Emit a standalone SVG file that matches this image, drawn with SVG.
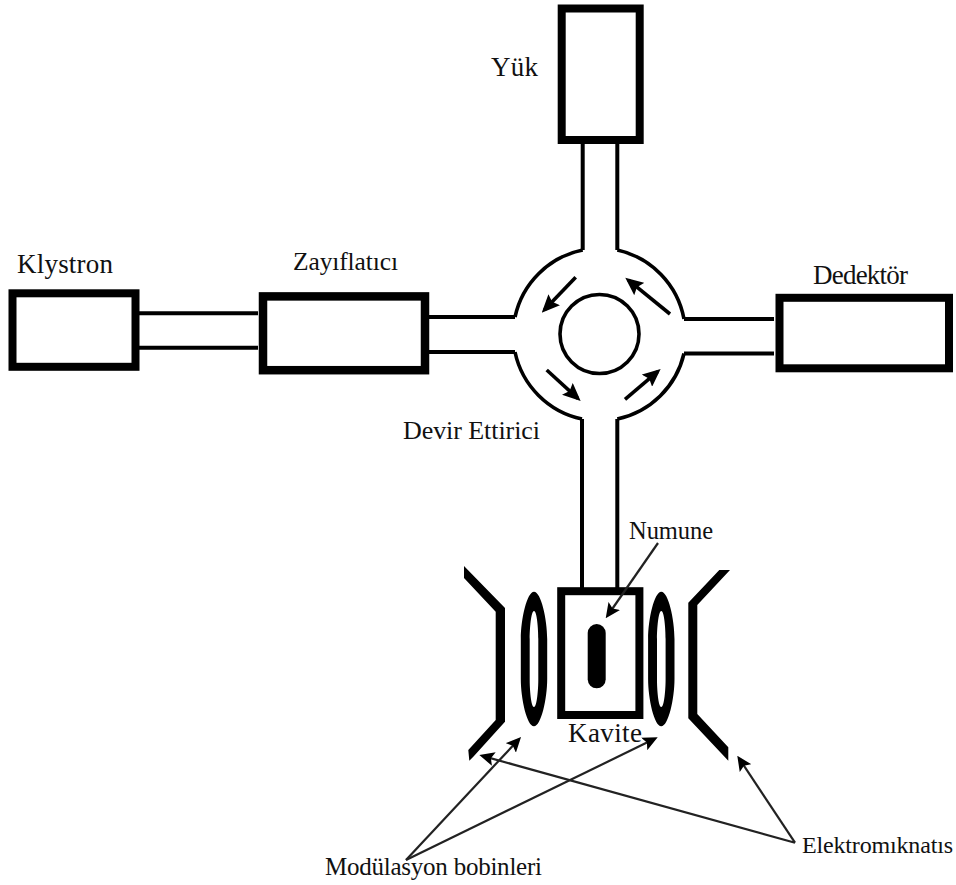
<svg xmlns="http://www.w3.org/2000/svg" width="956" height="885" viewBox="0 0 956 885">
<style>
text{font-family:"Liberation Serif","Times New Roman",serif;font-size:25px;fill:#111}
.box{fill:#fff;stroke:#000;stroke-width:8}
.wg{fill:none;stroke:#000;stroke-width:4}
.arc{fill:none;stroke:#000;stroke-width:3.6}
.fat{fill:#000;stroke:none}
.thin{stroke:#222;stroke-width:2.2;fill:none;marker-end:url(#head)}
.flow{stroke:#000;stroke-width:3.6;fill:none;marker-end:url(#head2)}
</style>
<defs>
<marker id="head" markerUnits="userSpaceOnUse" viewBox="0 -7 15 14" refX="11" refY="0" markerWidth="15" markerHeight="14" orient="auto"><path d="M0,-7 L15,0 L0,7 L3,0 z" fill="#000"/></marker>
<marker id="head2" markerUnits="userSpaceOnUse" viewBox="0 -8 18 16" refX="14" refY="0" markerWidth="18" markerHeight="16" orient="auto"><path d="M0,-8 L18,0 L0,8 L3,0 z" fill="#000"/></marker>
<path id="coil" fill="#000" fill-rule="evenodd" d="M0,-67.3 C7,-67.3 13.2,-40 13.2,-20 V20 C13.2,40 7,67.3 0,67.3 C-7,67.3 -13.2,40 -13.2,20 V-20 C-13.2,-40 -7,-67.3 0,-67.3 Z M0,-48 C-3,-48 -4.3,-30 -4.3,-20 V20 C-4.3,30 -3,48 0,48 C3,48 4.3,30 4.3,20 V-20 C4.3,-30 3,-48 0,-48 Z"/>
</defs>
<rect width="956" height="885" fill="#fff"/>
<g id="connectors">
<path class="wg" d="M139,313.3H258M139,347.7H258"/>
<path class="wg" d="M429,317H515M429,352H515"/>
<path class="wg" d="M684,319H774M684,353.5H774"/>
<path class="wg" d="M582.7,144V250M617.3,144V250"/>
<path class="wg" d="M582,419V588M617.3,419V588"/>
</g>
<g id="yuk"><rect class="box" x="561.7" y="8.5" width="78" height="131.5"/><text x="491" y="76" textLength="47" style="font-size:27px">Yük</text></g>
<g id="klystron"><rect class="box" x="12.5" y="293.3" width="123" height="73.5"/><text x="17" y="273" textLength="96" style="font-size:27px">Klystron</text></g>
<g id="zayiflatici"><rect class="box" x="263" y="296.4" width="162" height="73.8" style="stroke-width:8.5"/><text x="293" y="270" textLength="105" style="font-size:25.5px">Zayıflatıcı</text></g>
<g id="dedektor"><rect class="box" x="779.5" y="297.8" width="169.5" height="70.5"/><text x="813" y="284" textLength="95" style="font-size:27px">Dedektör</text></g>
<g id="devir-ettirici">
<path class="arc" d="M582.7,250A87,87 0 0 0 515,317M617.3,250A87,87 0 0 1 684,319M515,352A87,87 0 0 0 582,419M617.3,419A87,87 0 0 0 684,353.5"/>
<circle class="arc" cx="599.5" cy="334" r="39.5"/>
<line class="flow" x1="575.7" y1="277.3" x2="544.5" y2="309.8"/>
<line class="flow" x1="670" y1="314" x2="628.4" y2="280.2"/>
<line class="flow" x1="546.7" y1="370" x2="577.7" y2="398.3"/>
<line class="flow" x1="625" y1="399.3" x2="657.6" y2="371.6"/>
<text x="403" y="439" textLength="137" style="font-size:26px">Devir Ettirici</text>
</g>
<g id="kavite"><rect class="box" x="561.2" y="591.2" width="78.2" height="123.8"/><text x="568" y="741.7" textLength="74" style="font-size:27px">Kavite</text></g>
<g id="numune"><rect class="fat" x="587.7" y="624" width="18" height="64.3" rx="9"/><text x="629" y="539" textLength="84" style="font-size:24.5px">Numune</text></g>
<g id="bobin-sol"><use href="#coil" x="534" y="659"/></g>
<g id="bobin-sag"><use href="#coil" x="661.3" y="659"/></g>
<g id="miknatis-sol"><polygon class="fat" points="464,566 505,608 505,721.7 473.3,756.7 469.3,760.7 468.3,750 495.7,720 495.7,611.7 464,578"/></g>
<g id="miknatis-sag"><polygon class="fat" points="730,570 697.3,605 697.3,714 728.3,747.3 728.3,760.7 688.3,718.3 688.3,602.7 719.3,570"/></g>
<g id="modulasyon"><text x="325" y="875" textLength="217">Modülasyon bobinleri</text></g>
<g id="elektromiknatis"><text x="802" y="853" textLength="151" style="font-size:24px">Elektromıknatıs</text></g>
<g id="leaders">
<line class="thin" x1="658" y1="543" x2="608" y2="615"/>
<line class="thin" x1="406" y1="860" x2="518.3" y2="739.9"/>
<line class="thin" x1="406" y1="860" x2="654.1" y2="739.1"/>
<line class="thin" x1="795" y1="842.7" x2="483.2" y2="756.1"/>
<line class="thin" x1="795" y1="842.7" x2="739.5" y2="759"/>
</g>
</svg>
